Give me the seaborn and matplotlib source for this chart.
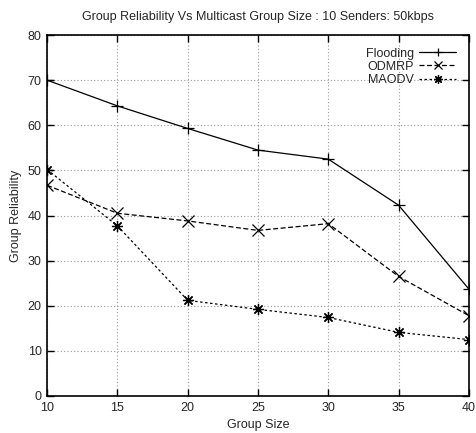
import matplotlib
matplotlib.use("Agg")
import matplotlib.pyplot as plt
import seaborn as sns
import pandas as pd

group_size = [10, 15, 20, 25, 30, 35, 40]
flooding = [70.0, 64.3, 59.3, 54.5, 52.5, 42.3, 23.7]
odmrp = [46.7, 40.5, 38.8, 36.7, 38.2, 26.5, 17.8]
maodv = [50.2, 37.7, 21.2, 19.2, 17.4, 14.1, 12.5]
series_names = ["Flooding", "ODMRP", "MAODV"]
x_ticks = [10, 15, 20, 25, 30, 35, 40]
y_ticks = [0, 10, 20, 30, 40, 50, 60, 70, 80]

sns.set_theme(style="white")
plt.rcParams['font.family'] = ['Liberation Sans', 'DejaVu Sans']

df = pd.DataFrame({
    "Group Size": group_size * 3,
    "Group Reliability": flooding + odmrp + maodv,
    "Protocol": sum([[n] * len(group_size) for n in series_names], []),
})

fig = plt.figure(figsize=(4.76, 4.33), dpi=100)
ax = fig.add_axes([0.099, 0.0855, 0.886, 0.8335])

sns.lineplot(
    data=df, x="Group Size", y="Group Reliability", hue="Protocol", style="Protocol",
    palette={n: "black" for n in series_names},
    dashes={"Flooding": "", "ODMRP": (4, 2), "MAODV": (2, 2)},
    markers={"Flooding": "+", "ODMRP": "x", "MAODV": (8, 2, 0)},
    markersize=8, markeredgewidth=0.9, markeredgecolor="black",
    linewidth=0.9, ax=ax, legend=False,
)

ax.set_xlim(10, 40)
ax.set_ylim(0, 80)
ax.set_xticks(x_ticks)
ax.set_yticks(y_ticks)
ax.grid(True, color="#999999", linestyle=(0, (1, 2)), linewidth=0.8)
ax.tick_params(direction="in", length=5, width=1, color="black", labelsize=9,
               top=True, right=True, bottom=True, left=True, pad=4)
for s in ax.spines.values():
    s.set_color("black")
    s.set_linewidth(1.2)
ax.set_xlabel("Group Size", fontsize=9)
ax.set_ylabel("Group Reliability", fontsize=9)
ax.set_title("Group Reliability Vs Multicast Group Size : 10 Senders: 50kbps", fontsize=9, pad=11)

lines = ax.get_lines()[:3]
leg = ax.legend(lines, series_names, loc="upper right", frameon=False, markerfirst=False,
                fontsize=9, handlelength=3.0, handletextpad=0.4, labelspacing=0.1,
                borderaxespad=0.6, numpoints=1, markerscale=0.8)
for t in leg.get_texts():
    t.set_ha("right")

fig.savefig("out.png", dpi=100)
